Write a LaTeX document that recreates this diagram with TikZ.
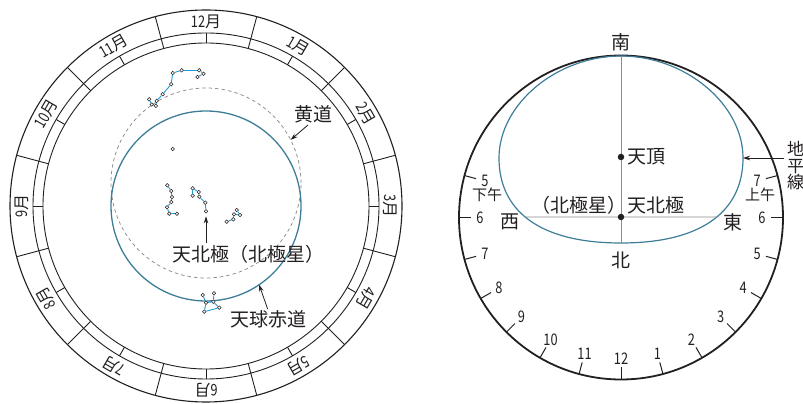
\documentclass[tikz,border=0pt]{standalone}
\usepackage{fontspec}
\setmainfont{Noto Sans CJK JP}
\newfontfamily\numfont[FakeStretch=0.8]{Noto Sans CJK JP}
\usetikzlibrary{arrows.meta,calc,intersections}
\definecolor{ink}{HTML}{231F20}
\definecolor{eqblue}{HTML}{3D7D98}
\definecolor{starblue}{HTML}{1E9BD7}
\definecolor{guide}{HTML}{8C8C8C}
\begin{document}
\begin{tikzpicture}[x=1pt,y=1pt,
  ring/.style={draw=ink,line width=0.9pt},
  dial/.style={draw=ink,line width=1.8pt},
  tick/.style={draw=ink,line width=1pt},
  equator/.style={draw=eqblue,line width=1.3pt},
  eclipticline/.style={draw=guide,line width=0.75pt,dash pattern=on 3.5pt off 3pt},
  guideline/.style={draw=guide,line width=0.9pt},
  staredge/.style={draw=starblue,line width=0.9pt},
  star/.style={circle,draw=ink,fill=white,line width=0.55pt,inner sep=0pt,minimum size=3.6pt},
  dot/.style={circle,fill=ink,inner sep=0pt,minimum size=6.5pt},
  lbl/.style={text=ink,inner sep=0pt,font=\fontsize{19}{19}\selectfont},
  small/.style={text=ink,inner sep=0pt,font=\fontsize{15}{15}\selectfont},
  monthlbl/.style={text=ink,inner sep=0pt,font=\fontsize{16}{16}\selectfont},
  hourlbl/.style={text=ink,inner sep=0pt,font=\fontsize{16}{16}\selectfont\numfont},
  pointer/.style={draw=ink,line width=0.8pt,-{Stealth[length=7pt,width=4.5pt]}}
]
\useasboundingbox (0,0) rectangle (803,404);

% ---------------- star disc with month ring ----------------
\coordinate (C) at (206,198);
\coordinate (E) at (206,221);
\draw[ring,line width=1.1pt] (C) circle[radius=196];
\draw[ring] (C) circle[radius=173];
\draw[ring] (C) circle[radius=163];
\foreach \k in {0,...,11}{
  \draw[ring] ($(C)+(15+30*\k:163)$) -- ($(C)+(15+30*\k:196)$);
  \draw[ring] ($(C)+(30*\k:163)$) -- ($(C)+(30*\k:173)$);
}
\foreach \m [count=\k from 0] in {12,1,2,3,4,5,6,7,8,9,10,11}{
  \pgfmathsetmacro\ang{90-30*\k}
  \node[monthlbl,rotate=\ang-90] (mon\k) at ($(C)+(\ang:184.5)$) {{\numfont\m}月};
}

% ecliptic and celestial equator
\draw[eclipticline] (E) circle[radius=95];
\draw[equator] (C) circle[radius=95];

% stars
\foreach \n/\x/\y in {
  a1/172.7/331, a2/181.7/333.7, a3/199.2/333.7, a4/203.5/330.3, a5/197.5/327,
  a6/171.2/319.8, a7/162.7/309.8, a8/156.7/303.2, a9/155.8/298.2, a10/151.7/299.5, a11/149.2/304.7,
  l1/172.7/255,
  b1/167.3/218.7, b2/171.3/213, b3/172/207, b4/171.3/202, b5/167/196.7, b6/169.3/190.3, b7/177/190.3,
  c1/192.7/215.7, c2/198.7/212, c3/192.7/208.3, c4/199.3/207.3, c5/205.3/201.3, c6/206/192.7,
  d1/236.7/194, d2/234/189.7, d3/240/189, d4/233.3/184.7, d5/226.7/182.3,
  e1/202.7/109, e2/214/110.7, e3/206/101.3, e4/213.3/102.3, e5/219.3/96.3, e6/204.3/92.3}
  \node[star] (\n) at (\x,\y) {};
\foreach \p/\q in {a1/a2,a2/a3,a3/a4,a4/a5,a1/a6,a6/a7,a7/a8,a8/a9,a9/a10,a10/a11,
  b1/b2,b2/b3,b3/b4,b4/b5,b5/b6,b6/b7,
  c1/c2,c1/c3,c2/c4,c4/c5,c5/c6,
  d1/d3,d3/d2,d2/d4,d4/d5,
  e1/e3,e2/e4,e3/e4,e4/e5,e5/e6,e6/e3}
  \draw[staredge] (\p) -- (\q);

% labels with pointers
\node[lbl] (ecl) at (313,290) {黄道};
\coordinate (eclpt) at ($(E)+(27:95)$);
\draw[pointer] ($(ecl.south)+(-5,-2)$) -- (eclpt);

\node[lbl] (polelbl) at (248,150) {天北極（北極星）};
\draw[pointer,shorten <=2pt,shorten >=3pt] (polelbl.north -| c6) -- (c6.south);

\node[lbl] (eqlbl) at (268,85) {天球赤道};
\coordinate (eqpt) at ($(C)+(-56:95)$);
\draw[pointer,shorten <=1pt] (eqlbl.north) -- (eqpt);

% ---------------- horizon window with hour dial ----------------
\coordinate (P) at (621,186.5);
\draw[dial] (P) circle[radius=162];

\coordinate (htop) at (621,348);
\coordinate (hbot) at (621,161);
\coordinate (hE) at (743,246);
\coordinate (hW) at (499,246);
\draw[equator,line width=1.2pt,name path=horizon]
  (htop) .. controls (685,348) and (743,300) .. (hE)
         .. controls (743,195) and (705,161) .. (hbot)
         .. controls (537,161) and (499,195) .. (hW)
         .. controls (499,300) and (557,348) .. (htop);
\path[name path=meridian] (470,187) -- (770,187);
\path[name intersections={of=horizon and meridian,sort by=meridian,by={hw,he}}];
\draw[guideline] (htop) -- (hbot);
\draw[guideline] (hw) -- (he);

\node[dot] (zen) at (621,247) {};
\node[dot] (ncp) at (621,187) {};

\foreach \a/\h in {165/5,180/6,195/7,210/8,225/9,240/10,255/11,270/12,
                   285/1,300/2,315/3,330/4,345/5,0/6,15/7}{
  \draw[tick] ($(P)+(\a:150)$) -- ($(P)+(\a:162)$);
  \node[hourlbl] (hr\a) at ($(P)+(\a:141)$) {\h};
}

\node[lbl] (south) at (621,362) {南};
\node[lbl] (north) at (621,144) {北};
\node[lbl] (west) at (510,182) {西};
\node[lbl] (east) at (733,182) {東};
\node[lbl,anchor=west] (zenlbl) at (627,247) {天頂};
\node[lbl,anchor=east] (polaris) at (627,199) {（北極星）};
\node[lbl,anchor=west] (ncplbl) at (627,199) {天北極};
\node[small] (pm) at (487,209) {下午};
\node[small] (am) at (760,209) {上午};

\node[text=ink,inner sep=0pt,align=center,font=\fontsize{17}{16.5}\selectfont] (horlbl) at (795.5,238) {地\\平\\線};
\draw[pointer,shorten <=3pt] (horlbl.west |- hE) -- (hE);

\end{tikzpicture}
\end{document}
